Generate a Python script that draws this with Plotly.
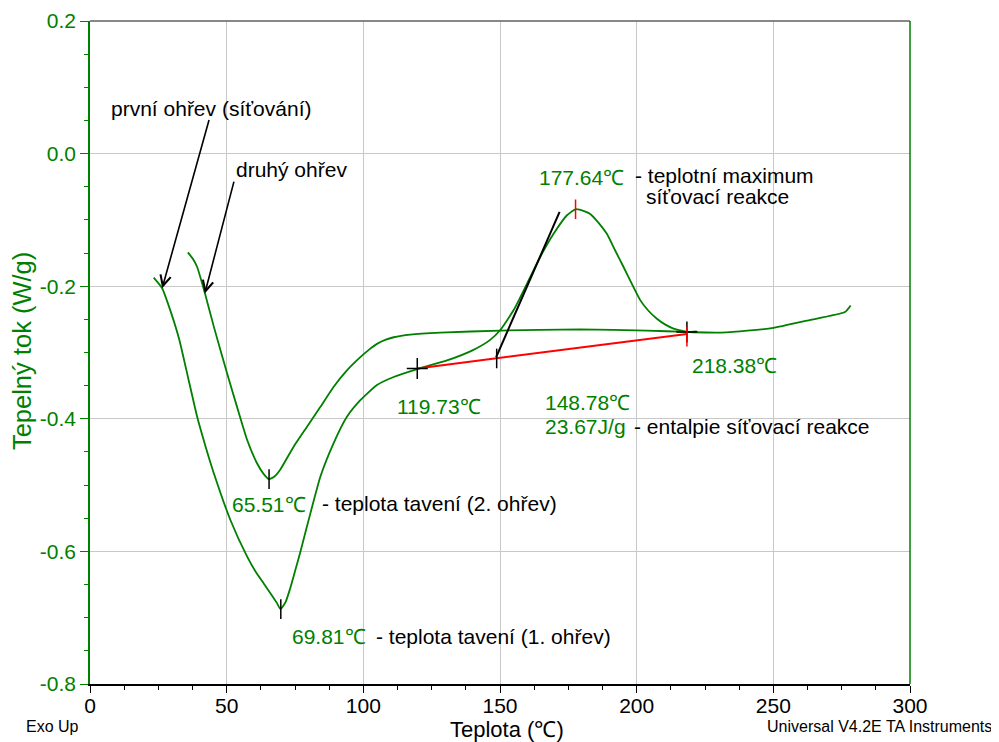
import plotly.graph_objects as go

# ---- data ----
heat1_T = [23.3, 26.4, 29.5, 32.7, 36.0, 39.2, 42.3, 45.3, 51.4, 57.5, 60.5, 63.5, 66.5, 68.4, 69.7,
           71.5, 73.3, 75.0, 77.0, 80.6, 84.3, 89.1, 94.0, 98.9, 105.0, 111.1, 119.7, 130.6, 140.3,
           146.4, 150.1, 155.0, 159.9, 164.7, 169.6, 174.5, 177.6, 181.0, 183.0, 186.0, 189.1, 192.0,
           195.2, 198.3, 201.3, 204.3, 207.4, 210.5, 213.5, 218.4, 222.0]
heat1_Q = [-0.187, -0.203, -0.238, -0.281, -0.340, -0.397, -0.442, -0.482, -0.553, -0.608, -0.630, -0.648,
           -0.666, -0.678, -0.687, -0.677, -0.655, -0.630, -0.600, -0.543, -0.487, -0.437, -0.397, -0.372,
           -0.349, -0.337, -0.325, -0.312, -0.296, -0.281, -0.266, -0.236, -0.196, -0.156, -0.121,
           -0.093, -0.084, -0.087, -0.091, -0.104, -0.121, -0.145, -0.171, -0.197, -0.221, -0.237,
           -0.249, -0.258, -0.264, -0.269, -0.268]

heat2_T = [35.8, 37.5, 39.2, 42.0, 45.3, 50.2, 53.8, 57.5, 61.1, 63.5, 65.5, 67.5, 69.7, 74.5, 79.4,
           84.3, 89.1, 94.0, 98.9, 102.0, 105.0, 108.0, 111.1, 117.2, 128.2, 150.1, 179.3, 203.7, 218.4,
           229.3, 237.8, 250.0, 262.2, 276.2, 278.3]
heat2_Q = [-0.149, -0.158, -0.171, -0.210, -0.261, -0.332, -0.382, -0.432, -0.467, -0.483, -0.491,
           -0.487, -0.476, -0.442, -0.412, -0.382, -0.352, -0.327, -0.307, -0.296, -0.287, -0.281,
           -0.277, -0.273, -0.270, -0.267, -0.265, -0.267, -0.269, -0.270, -0.268, -0.263, -0.252,
           -0.239, -0.229]

baseline_T = [119.73, 218.38]
baseline_Q = [-0.324, -0.272]
tangent_T = [148.6, 171.8]
tangent_Q = [-0.307, -0.088]

cross_T = [119.73, 218.38]
cross_Q = [-0.324, -0.269]
black_tick_T = [65.51, 69.81, 148.78]
black_tick_Q = [-0.491, -0.687, -0.309]
red_tick_T = [177.64, 218.38]
red_tick_Q = [-0.084, -0.276]

x_ticks = [0, 50, 100, 150, 200, 250, 300]
y_ticks = [0.2, 0.0, -0.2, -0.4, -0.6, -0.8]
y_tick_text = ["0.2", "0.0", "-0.2", "-0.4", "-0.6", "-0.8"]

GREEN = "#008000"
FONT = "Liberation Sans, Arial, sans-serif"

fig = go.Figure()
fig.add_trace(go.Scatter(x=heat1_T, y=heat1_Q, mode="lines", line=dict(color=GREEN, width=1.8, shape="spline", smoothing=0.5), hoverinfo="skip"))
fig.add_trace(go.Scatter(x=heat2_T, y=heat2_Q, mode="lines", line=dict(color=GREEN, width=1.8, shape="spline", smoothing=0.5), hoverinfo="skip"))
fig.add_trace(go.Scatter(x=baseline_T, y=baseline_Q, mode="lines", line=dict(color="red", width=2), hoverinfo="skip"))
fig.add_trace(go.Scatter(x=tangent_T, y=tangent_Q, mode="lines", line=dict(color="black", width=2), hoverinfo="skip"))
fig.add_trace(go.Scatter(x=cross_T, y=cross_Q, mode="markers",
                         marker=dict(symbol="cross-thin-open", size=15, color="black", line=dict(color="black", width=1.5)), hoverinfo="skip"))
fig.add_trace(go.Scatter(x=black_tick_T, y=black_tick_Q, mode="markers",
                         marker=dict(symbol="line-ns-open", size=14, color="black", line=dict(color="black", width=1.5)), hoverinfo="skip"))
fig.add_trace(go.Scatter(x=red_tick_T, y=red_tick_Q, mode="markers",
                         marker=dict(symbol="line-ns-open", size=14, color="red", line=dict(color="red", width=1.5)), hoverinfo="skip"))

# text labels: (x, y, text, color)
labels = [
    (6.9, 0.068, "první ohřev (síťování)", "black"),
    (52.8, -0.024, "druhý ohřev", "black"),
    (163.5, -0.036, "177.64℃", GREEN),
    (198.8, -0.033, "- teplotní maximum", "black"),
    (202.7, -0.065, "síťovací reakce", "black"),
    (111.7, -0.382, "119.73℃", GREEN),
    (165.7, -0.376, "148.78℃", GREEN),
    (165.6, -0.412, "23.67J/g", GREEN),
    (198.2, -0.411, "- entalpie síťovací reakce", "black"),
    (219.6, -0.319, "218.38℃", GREEN),
    (51.4, -0.530, "65.51℃", GREEN),
    (84.0, -0.528, "- teplota tavení (2. ohřev)", "black"),
    (73.1, -0.729, "69.81℃", GREEN),
    (104.0, -0.728, "- teplota tavení (1. ohřev)", "black"),
]
annotations = []
for x, y, t, c in labels:
    annotations.append(dict(x=x, y=y, xref="x", yref="y", text=t, showarrow=False,
                            xanchor="left", yanchor="middle", font=dict(family=FONT, size=21, color=c)))

# arrows: tail (ax, ay) -> head (x, y)
arrows = [
    (43.7, 0.053, 26.4, -0.203),
    (52.8, -0.040, 42.0, -0.211),
]
for ax, ay, x, y in arrows:
    annotations.append(dict(x=x, y=y, ax=ax, ay=ay, xref="x", yref="y", axref="x", ayref="y",
                            text="", showarrow=True, arrowhead=5, arrowsize=1.3, arrowwidth=1.6,
                            arrowcolor="black", standoff=0))

annotations += [
    dict(x=0.5085, y=-0.068, xref="paper", yref="paper", text="Teplota (℃)", showarrow=False,
         xanchor="center", yanchor="middle", font=dict(family=FONT, size=22, color="black")),
    dict(x=-0.083, y=0.502, xref="paper", yref="paper", text="Tepelný tok (W/g)", showarrow=False,
         textangle=-90, xanchor="center", yanchor="middle", font=dict(family=FONT, size=25.5, color=GREEN)),
    dict(x=-0.0805, y=-0.064, xref="paper", yref="paper", text="Exo Up", showarrow=False,
         xanchor="left", yanchor="middle", font=dict(family=FONT, size=16, color="black")),
    dict(x=1.103, y=-0.064, xref="paper", yref="paper", text="Universal V4.2E TA Instruments", showarrow=False,
         xanchor="right", yanchor="middle", font=dict(family=FONT, size=16, color="black")),
]

shapes = [
    dict(type="line", xref="paper", yref="paper", x0=0, x1=1, y0=1, y1=1, line=dict(color="#606060", width=1.5)),
    dict(type="line", xref="paper", yref="paper", x0=1, x1=1, y0=0, y1=1, line=dict(color=GREEN, width=1.5)),
]

# the page places the figure 8px from the top-left corner: size and margins compensate for it
fig.update_layout(
    width=991, height=734,
    margin=dict(l=82, r=89, t=13, b=58, autoexpand=False),
    paper_bgcolor="white", plot_bgcolor="white",
    showlegend=False,
    annotations=annotations,
    shapes=shapes,
    xaxis=dict(range=[0, 300], tickvals=x_ticks, showgrid=True, gridcolor="#c8c8c8", gridwidth=1,
               zeroline=False, showline=True, linecolor="black", linewidth=1.5, automargin=False,
               ticks="outside", ticklen=7, tickwidth=1, tickcolor="black", ticklabelstandoff=-5,
               tickfont=dict(family=FONT, size=21, color="black"),
               minor=dict(dtick=12.5, tick0=0, ticks="outside", ticklen=4, tickcolor="black", showgrid=False)),
    yaxis=dict(range=[-0.8, 0.2], tickvals=y_ticks, ticktext=y_tick_text, showgrid=True, gridcolor="#c8c8c8",
               gridwidth=1, zeroline=False, showline=True, linecolor=GREEN, linewidth=1.5, automargin=False,
               ticks="outside", ticklen=8, tickwidth=1, tickcolor=GREEN,
               tickfont=dict(family=FONT, size=21, color=GREEN),
               minor=dict(dtick=0.05, tick0=0, ticks="outside", ticklen=4, tickcolor=GREEN, showgrid=False)),
)

fig.write_html("out.html")
